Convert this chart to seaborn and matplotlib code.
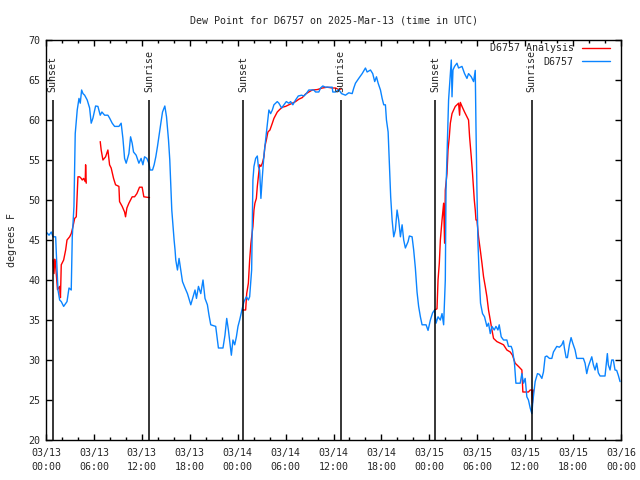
import pandas as pd
import numpy as np
import matplotlib
matplotlib.use("Agg")
import matplotlib.pyplot as plt
import matplotlib.dates as mdates
import seaborn as sns

# hours after 2025-03-13 00:00 UTC, dew point in F
obs_hours = [0.12, 0.38, 0.66, 0.88, 1.21, 1.29, 1.5, 1.71, 1.91, 2.21, 2.63, 2.88, 3.16, 3.29, 3.5, 3.66,
             3.91, 4.13, 4.29, 4.46, 4.63, 4.84, 5.16, 5.46, 5.66, 5.88, 6.21, 6.5, 6.79, 7.0, 7.34, 7.75,
             7.96, 8.29, 8.59, 9.13, 9.41, 9.63, 9.84, 10.04, 10.38, 10.59, 10.79, 10.96, 11.29, 11.63,
             11.91, 12.13, 12.34, 12.63, 12.88, 13.04, 13.34, 13.54, 13.75, 13.96, 14.16, 14.38, 14.59,
             14.88, 15.09, 15.34, 15.5, 15.63, 15.75, 15.91, 16.04, 16.16, 16.25, 16.46, 16.66, 16.88,
             17.09, 17.41, 17.71, 18.13, 18.41, 18.66, 18.84, 19.09, 19.38, 19.66, 19.91, 20.21, 20.41,
             20.63, 21.25, 21.59, 22.16, 22.41, 22.63, 22.84, 23.04, 23.21, 23.41, 23.63, 23.84, 24.04,
             24.25, 24.59, 24.79, 25.09, 25.34, 25.5, 25.75, 25.84, 25.91, 26.04, 26.25, 26.46, 26.59,
             26.75, 26.91, 27.09, 27.29, 27.5, 27.71, 27.91, 28.13, 28.34, 28.54, 28.96, 29.16, 29.5,
             29.79, 30.09, 30.41, 30.63, 30.91, 31.25, 31.59, 32.0, 32.29, 32.59, 32.91, 33.54, 33.75,
             34.16, 34.38, 34.66, 35.0, 35.84, 35.91, 36.25, 36.66, 37.0, 37.5, 37.91, 38.34, 38.54,
             38.75, 39.16, 39.59, 40.0, 40.21, 40.63, 40.91, 41.16, 41.38, 41.59, 41.88, 42.09, 42.29,
             42.5, 42.63, 42.84, 43.0, 43.16, 43.34, 43.54, 43.75, 43.96, 44.16, 44.38, 44.59, 44.79,
             45.0, 45.34, 45.5, 45.84, 46.04, 46.25, 46.46, 46.66, 46.88, 47.09, 47.59, 47.84, 48.13,
             48.41, 48.66, 48.84, 49.09, 49.38, 49.59, 49.79, 50.0, 50.09, 50.21, 50.41, 50.63, 50.75,
             50.84, 50.96, 51.16, 51.46, 51.66, 52.09, 52.41, 52.71, 52.91, 53.25, 53.54, 53.75, 53.84,
             53.96, 54.09, 54.25, 54.41, 54.66, 54.91, 55.21, 55.41, 55.63, 55.84, 56.13, 56.34, 56.59,
             56.75, 57.0, 57.29, 57.71, 57.91, 58.25, 58.41, 58.66, 58.84, 59.38, 59.59, 59.79, 60.0,
             60.21, 60.41, 60.63, 60.84, 60.96, 61.13, 61.25, 61.54, 61.79, 62.09, 62.29, 62.5, 62.71,
             63.04, 63.34, 63.54, 63.96, 64.29, 64.59, 64.79, 64.91, 65.13, 65.29, 65.54, 65.75, 65.96,
             66.25, 66.46, 67.29, 67.5, 67.71, 67.91, 68.13, 68.34, 68.54, 68.75, 68.96, 69.16, 69.38,
             70.0, 70.29, 70.41, 70.63, 70.84, 71.04, 71.25, 71.46, 71.66, 71.88]
obs_dewpt = [45.9, 45.6, 46.0, 45.4, 45.4, 43.4, 38.75, 37.5, 37.3, 36.7, 37.3, 39.0, 38.75, 45.4, 49.2, 58.3,
             61.25, 62.7, 62.1, 63.75, 63.3, 63.1, 62.5, 61.5, 59.6, 60.25, 61.75, 61.7, 60.6, 61.0, 60.6, 60.6,
             60.25, 59.6, 59.2, 59.2, 59.6, 57.7, 55.2, 54.6, 55.8, 57.9, 57.1, 56.0, 55.6, 54.6,
             55.2, 54.4, 55.4, 55.2, 54.6, 53.75, 53.75, 54.4, 55.4, 56.7, 58.1, 59.6, 61.0,
             61.75, 60.4, 57.5, 55.0, 51.7, 48.75, 46.7, 45.0, 43.75, 42.5, 41.25, 42.7, 41.25,
             39.8, 39.0, 38.3, 36.9, 37.9, 38.75, 37.7, 39.2, 38.3, 40.0, 37.7, 36.9, 35.6,
             34.4, 34.2, 31.5, 31.5, 33.1, 35.2, 33.75, 32.1, 30.6, 32.5, 31.9, 32.9, 34.2,
             35.0, 36.5, 37.3, 37.9, 37.5, 37.9, 41.25, 47.9, 52.5, 54.2, 55.2, 55.5, 54.2,
             53.75, 50.2, 52.9, 55.6, 57.5, 59.4, 61.25, 60.8, 61.25, 61.9, 62.3, 62.1, 61.5,
             61.9, 62.3, 62.1, 62.3, 61.9, 62.5, 63.0, 63.1, 63.0, 63.3, 63.75, 63.75, 63.5,
             63.5, 64.0, 64.25, 64.1, 64.1, 63.5, 63.5, 63.8, 63.3, 63.1, 63.4, 63.3, 64.0,
             64.6, 65.2, 65.8, 66.5, 66.0, 66.25, 65.8, 64.8, 65.4, 64.6, 63.75, 62.7, 61.9,
             61.9, 60.0, 58.5, 54.6, 50.4, 47.5, 45.4, 46.25, 48.75, 47.5, 45.4, 46.9, 45.0,
             44.0, 44.8, 45.5, 45.4, 43.75, 41.5, 38.5, 36.7, 35.4, 34.4, 34.4, 33.7, 35.0,
             35.9, 36.25, 34.6, 35.4, 35.0, 35.8, 34.4, 40.0, 51.25, 55.4, 62.5, 65.8, 67.5,
             62.9, 66.25, 66.7, 67.1, 66.5, 66.7, 65.8, 65.2, 65.8, 65.4, 64.8, 66.2, 59.2,
             51.25, 44.6, 40.4, 37.1, 35.8, 35.4, 34.2, 34.6, 33.3, 34.2, 33.75, 34.2, 33.75,
             34.4, 32.9, 32.5, 32.5, 31.7, 31.7, 31.25, 29.6, 27.1, 27.1, 28.3, 27.1, 27.7,
             25.4, 25.0, 24.0, 23.3, 24.8, 26.25, 27.3, 28.3, 28.2, 27.7, 28.5, 30.4, 30.5,
             30.2, 30.2, 31.0, 31.7, 31.6, 31.9, 32.4, 31.5, 30.3, 30.3, 31.9, 32.8, 32.1,
             31.25, 30.2, 30.2, 29.6, 28.3, 29.2, 29.8, 30.4, 29.4, 28.75, 29.6, 28.4, 28.0,
             28.0, 30.8, 29.4, 28.75, 30.0, 30.0, 28.75, 28.7, 28.1, 27.3]

# analysis, NaN marks gaps
ana_hours = [0.88, 1.0, 1.09, 1.21, 1.44, 1.71, 1.81, 1.91, 2.21, 2.46, 2.63, 2.96, 3.16, 3.38, 3.59, 3.79,
             3.91, 4.0, 4.21, 4.41, 4.54, 4.71, 4.91, 4.96, 5.04, 5.5,
             6.79, 6.91, 7.13, 7.46, 7.75, 7.96, 8.16, 8.46, 8.71, 9.13, 9.21, 9.54, 9.84, 9.96, 10.13,
             10.38, 10.79, 11.09, 11.38, 11.71, 12.04, 12.25, 12.96, 13.5,
             24.59, 25.0, 25.13, 25.34, 25.5, 25.66, 25.91, 26.04, 26.16, 26.34, 26.46, 26.59, 26.75,
             26.91, 27.09, 27.29, 27.41, 27.59, 27.79, 28.04, 28.34, 28.54, 28.75, 28.96, 29.25, 29.59,
             30.0, 30.41, 30.84, 31.25, 31.66, 32.09, 32.5, 32.91, 33.34, 33.96, 34.59, 35.21, 35.84,
             36.25, 36.66, 37.0, 37.5,
             48.66, 48.96, 49.09, 49.25, 49.38, 49.59, 49.79, 49.91, 50.0, 50.21, 50.34, 50.5, 50.63,
             50.84, 51.04, 51.25, 51.46, 51.66, 51.79, 51.88, 52.09, 52.41, 52.71, 52.91, 53.04, 53.25,
             53.41, 53.63, 53.75, 53.84, 53.96, 54.16, 54.38, 54.59, 54.79, 55.0, 55.21, 55.41, 55.63,
             55.84, 56.04, 56.46, 56.88, 57.29, 57.71, 58.13, 58.41, 58.75, 59.16, 59.59, 59.71, 60.41,
             60.63, 60.84, 60.91, 61.04]
ana_dewpt = [42.5, 40.8, 42.6, 41.7, 38.8, 39.2, 37.8, 41.9, 42.5, 43.75, 45.0, 45.4, 45.8, 46.7, 47.7, 47.9,
             50.8, 52.9, 52.9, 52.7, 52.5, 52.7, 52.3, 54.4, 52.1, np.nan,
             57.3, 56.25, 55.0, 55.4, 56.25, 54.4, 54.0, 52.7, 51.9, 51.7, 49.8, 49.2, 48.5, 47.9, 49.0,
             49.6, 50.4, 50.4, 50.8, 51.6, 51.6, 50.4, 50.3, np.nan,
             36.25, 36.25, 38.3, 39.6, 42.5, 44.6, 46.7, 48.75, 49.6, 50.2, 51.7, 52.9, 54.4,
             54.2, 54.6, 55.4, 56.7, 57.5, 58.5, 58.75, 59.6, 60.2, 60.6, 61.0, 61.3, 61.6,
             61.7, 61.9, 62.1, 62.3, 62.6, 62.8, 63.25, 63.5, 63.75, 63.8, 64.0, 64.1, 64.0,
             64.0, 63.8, 63.9, np.nan,
             36.25, 36.4, 40.0, 42.1, 45.0, 47.5, 49.6, 44.6, 51.25, 53.3, 56.25, 57.9, 59.6,
             60.8, 61.25, 61.7, 61.9, 62.1, 60.6, 62.2, 61.7, 61.0, 60.4, 60.0, 57.9, 55.4,
             53.3, 50.0, 48.75, 47.5, 47.5, 45.4, 43.75, 42.1, 40.4, 39.2, 37.9, 36.25, 35.0,
             33.75, 32.7, 32.3, 32.1, 31.9, 31.25, 31.0, 30.6, 29.6, 29.2, 28.75, 26.0, 26.0,
             26.25, 26.25, 24.6, 26.25]

sun_times = ["2025-03-13 00:50", "2025-03-13 12:55", "2025-03-14 00:42",
             "2025-03-14 12:53", "2025-03-15 00:42", "2025-03-15 12:50"]
sun_labels = ["Sunset", "Sunrise", "Sunset", "Sunrise", "Sunset", "Sunrise"]

t0 = pd.Timestamp("2025-03-13 00:00")

obs = pd.DataFrame({"time": t0 + pd.to_timedelta(obs_hours, unit="h"), "dewpt": obs_dewpt})
ana = pd.DataFrame({"time": t0 + pd.to_timedelta(ana_hours, unit="h"), "dewpt": ana_dewpt})
ana["seg"] = ana["dewpt"].isna().cumsum()
ana = ana.dropna()

sns.set_style("ticks")
plt.rcParams["font.family"] = ["DejaVu Sans Mono"]
plt.rcParams["font.size"] = 7.2

fig = plt.figure(figsize=(6.4, 4.8), dpi=100)
ax = fig.add_axes([46 / 640, 40 / 480, 575 / 640, 400 / 480])

red = "#ff0000"
blue = "#0a84ff"
for i, (seg, part) in enumerate(ana.groupby("seg")):
    sns.lineplot(data=part, x="time", y="dewpt", ax=ax, color=red, lw=1,
                 label="D6757 Analysis" if i == 0 else None, legend=False)
sns.lineplot(data=obs, x="time", y="dewpt", ax=ax, color=blue, lw=1, label="D6757", legend=False)

sun = pd.to_datetime(sun_times)
ax.vlines(sun, 20, 62.5, color="black", lw=1.1)
for t, lab in zip(sun, sun_labels):
    ax.text(t, 63.5, lab, rotation=90, ha="center", va="bottom", fontsize=7.2)

ax.set_xlim(pd.Timestamp("2025-03-13"), pd.Timestamp("2025-03-16"))
ax.set_ylim(20, 70)
ax.set_yticks(range(20, 71, 5))
ax.xaxis.set_major_locator(mdates.HourLocator(byhour=range(0, 24, 6)))
ax.xaxis.set_minor_locator(mdates.HourLocator(byhour=range(0, 24, 2)))
ax.xaxis.set_major_formatter(mdates.DateFormatter("%m/%d\n%H:%M"))
ax.tick_params(which="both", direction="in", top=True, right=True, color="black")
ax.tick_params(which="major", length=4.5, width=1, pad=4)
ax.tick_params(which="minor", length=2.5, width=1)
ax.tick_params(axis="x", which="major", pad=6)
for lbl in ax.get_xticklabels():
    lbl.set_linespacing(1.45)
for s in ax.spines.values():
    s.set_color("black")
    s.set_linewidth(1)

ax.set_xlabel("")
ax.set_ylabel("degrees F", labelpad=8)
ax.set_title("Dew Point for D6757 on 2025-Mar-13 (time in UTC)", fontsize=7.2, pad=12)

ax.legend(loc="upper right", bbox_to_anchor=(1 - 8 / 575, 1), frameon=False, markerfirst=False,
          borderpad=0, borderaxespad=0.35, handlelength=2.8, handletextpad=0.8, labelspacing=0.35,
          fontsize=7.2)

fig.savefig("out.png", dpi=100)
